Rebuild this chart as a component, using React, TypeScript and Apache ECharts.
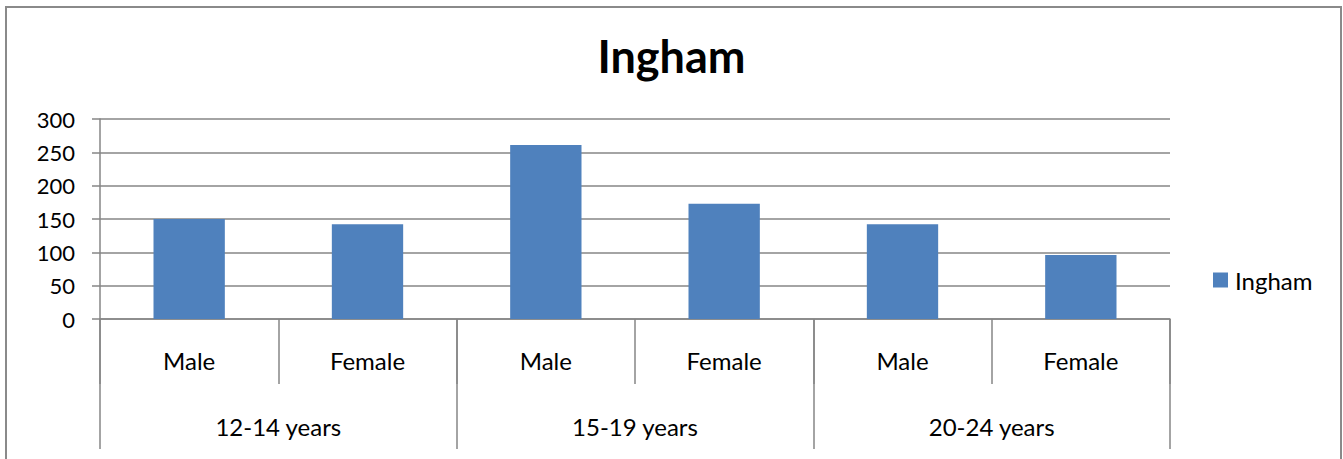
import React, { useEffect, useRef } from "react";
import * as echarts from "echarts";

const genders = ["Male", "Female", "Male", "Female", "Male", "Female"];
const ageGroups = ["12-14 years", "15-19 years", "20-24 years"];
const inghamValues = [150, 142, 261, 173, 142, 96];
const yTicks = { min: 0, max: 300, interval: 50 };
const seriesName = "Ingham";

const FONT = "Lato, 'Open Sans', sans-serif";
const GRAY = "#868686";

export default function App() {
  const ref = useRef<HTMLDivElement>(null);
  useEffect(() => {
    if (!ref.current) return;
    const chart = echarts.init(ref.current, undefined, { renderer: "svg" });
    chart.setOption({
      animation: false,
      backgroundColor: "#ffffff",
      title: {
        text: seriesName,
        left: "center",
        top: 28,
        textStyle: { fontFamily: FONT, fontSize: 45, fontWeight: "bold", color: "#000" },
      },
      legend: {
        data: [seriesName],
        left: 1208,
        top: 263,
        icon: "rect",
        itemWidth: 15,
        itemHeight: 15,
        itemGap: 6,
        textStyle: { fontFamily: FONT, fontSize: 24, color: "#000", padding: [0, 0, 0, 2] },
      },
      grid: { left: 100, right: 173, top: 119, bottom: 140, containLabel: false },
      xAxis: [
        {
          type: "category",
          data: genders,
          position: "bottom",
          axisLine: { show: true, lineStyle: { color: GRAY, width: 1.5 } },
          axisTick: { show: true, length: 65, lineStyle: { color: GRAY, width: 1.5 } },
          axisLabel: { fontFamily: FONT, fontSize: 24, color: "#000", margin: 29 },
        },
        {
          type: "category",
          data: ageGroups,
          position: "bottom",
          axisLine: { show: false },
          axisTick: { show: true, length: 130, lineStyle: { color: GRAY, width: 1.5 } },
          axisLabel: { fontFamily: FONT, fontSize: 24, color: "#000", margin: 95 },
        },
      ],
      yAxis: {
        type: "value",
        min: yTicks.min,
        max: yTicks.max,
        interval: yTicks.interval,
        axisLine: { show: true, lineStyle: { color: GRAY, width: 1.5 } },
        axisTick: { show: true, length: 8, lineStyle: { color: GRAY, width: 1.5 } },
        splitLine: { show: true, lineStyle: { color: GRAY, width: 1.5 } },
        axisLabel: { fontFamily: FONT, fontSize: 22, color: "#000", margin: 25 },
      },
      series: [
        {
          name: seriesName,
          type: "bar",
          xAxisIndex: 0,
          data: inghamValues,
          barWidth: "40%",
          itemStyle: { color: "#4F81BD" },
        },
      ],
      graphic: [
        {
          type: "rect",
          shape: { x: 6, y: 7, width: 1335, height: 470 },
          style: { fill: "none", stroke: "#8a8a8a", lineWidth: 2 },
          silent: true,
        },
      ],
    });
    return () => chart.dispose();
  }, []);
  return (
    <div
      ref={ref}
      style={{ position: "fixed", left: 0, top: 0, width: 1343, height: 459, background: "#fff" }}
    />
  );
}
